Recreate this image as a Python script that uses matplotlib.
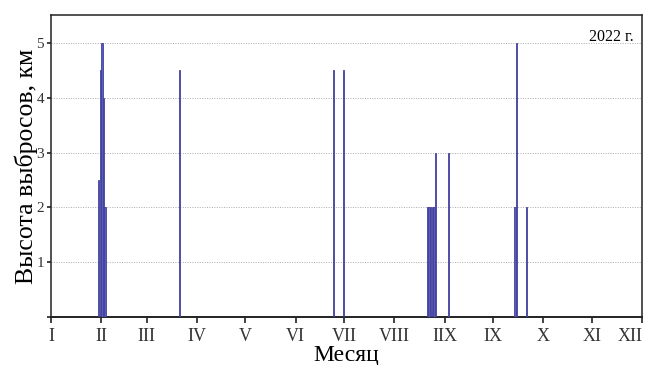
import numpy as np
import matplotlib.pyplot as plt

# day of year of each ash emission and its height, km
days = [29, 30, 31, 32, 33, 79, 174, 180, 232, 233, 234, 235, 236, 237, 245, 286, 287, 293]
heights = [2.5, 4.5, 5.0, 4.0, 2.0, 4.5, 4.5, 4.5, 2.0, 2.0, 2.0, 2.0, 2.0, 3.0, 3.0, 2.0, 5.0, 2.0]

month_starts = [0, 31, 59, 90, 120, 151, 181, 212, 243, 273, 304, 334, 365]
month_labels = ['I', 'II', 'III', 'IV', 'V', 'VI', 'VII', 'VIII', 'IIX', 'IX', 'X', 'XI', 'XII']
y_ticks = [0, 1, 2, 3, 4, 5]
y_labels = ['', '1', '2', '3', '4', '5']

plt.rcParams['font.family'] = ['Liberation Serif', 'DejaVu Serif']

fig = plt.figure(figsize=(6.46, 3.65), dpi=100)
ax = fig.add_axes([0.079, 0.131, 0.915, 0.827])

ax.yaxis.grid(True, linestyle=(0, (1, 1.5)), color='#aaaaaa', linewidth=0.7)
ax.set_axisbelow(True)

ax.bar(days, heights, width=0.9, align='edge', color='#5c5cb8',
       edgecolor='#40409e', linewidth=0.6, zorder=3)

ax.set_xlim(0, 365)
ax.set_ylim(0, 5.5)
ax.set_xticks(month_starts)
ax.set_xticklabels(month_labels, fontsize=13, color='#333333')
ax.get_xticklabels()[-1].set_horizontalalignment('right')
ax.set_yticks(y_ticks)
ax.set_yticklabels(y_labels, fontsize=11, color='#333333')
ax.tick_params(axis='both', direction='out', length=4, width=1.2, color='#222222')
ax.tick_params(axis='y', length=3, pad=2)

for s in ax.spines.values():
    s.set_linewidth(1.1)
    s.set_color('#222222')
ax.spines['bottom'].set_linewidth(1.4)

ax.set_xlabel('Месяц', fontsize=17, labelpad=0)
ax.set_ylabel('Высота выбросов, км', fontsize=18.5, labelpad=-1)
ax.text(0.985, 0.955, '2022 г.', transform=ax.transAxes, ha='right', va='top', fontsize=11.5)

fig.savefig('out.png', dpi=100)
